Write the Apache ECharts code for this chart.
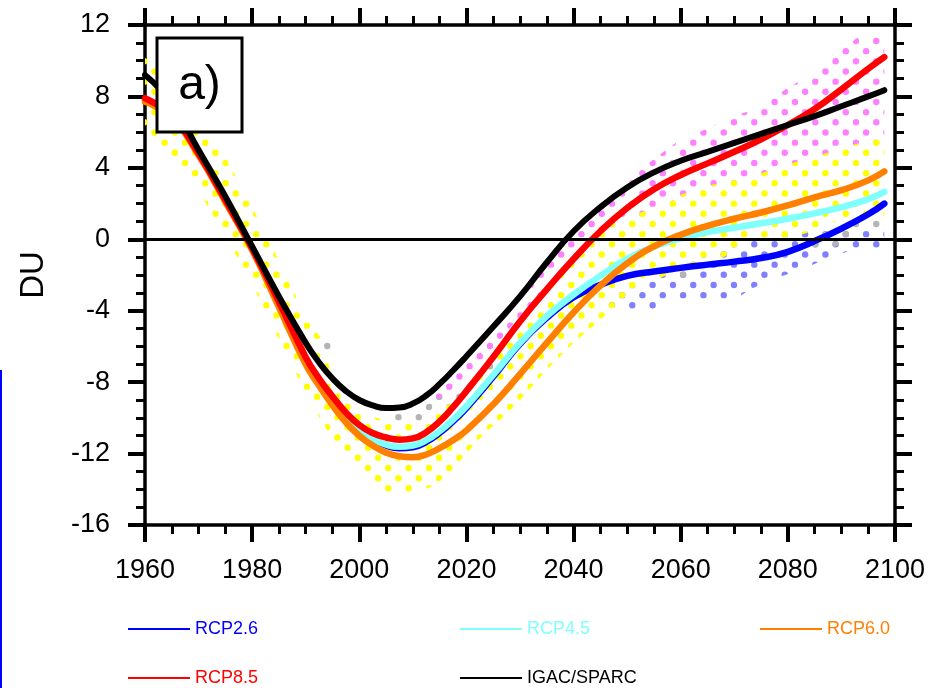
<!DOCTYPE html>
<html>
<head>
<meta charset="utf-8">
<script src="https://cdn.jsdelivr.net/npm/echarts@6/dist/echarts.min.js"></script>
<style>
  html, body { margin: 0; padding: 0; background: #fff; }
  #container { width: 935px; height: 688px; }
</style>
</head>
<body>
<div id="container"></div>
<script>
var years = [1960, 1965, 1970, 1975, 1980, 1985, 1990, 1992.5, 1995, 1997.5, 2000, 2002.5, 2005,
  2007.5, 2010, 2012.5, 2015, 2017.5, 2020, 2025, 2030, 2035, 2040, 2045, 2050, 2055, 2060, 2065,
  2070, 2075, 2080, 2085, 2090, 2095, 2098];

var rcp26 = [7.8, 6.9, 4.8, 2.2, -0.5, -3.6, -6.7, -7.9, -9.0, -9.95, -10.7, -11.2, -11.55,
  -11.7, -11.65, -11.35, -10.85, -10.2, -9.45, -7.7, -5.85, -4.4, -3.25, -2.55, -2.05, -1.8, -1.6, -1.42,
  -1.25, -1.05, -0.7, -0.1, 0.6, 1.4, 2.0];
var rcp45 = [7.8, 6.9, 4.8, 2.2, -0.5, -3.6, -6.7, -7.9, -9.0, -9.95, -10.7, -11.2, -11.5,
  -11.62, -11.55, -11.25, -10.75, -10.1, -9.35, -7.6, -5.8, -4.3, -3.1, -2.05, -1.1, -0.4, 0.05, 0.4,
  0.65, 0.9, 1.15, 1.45, 1.8, 2.25, 2.65];
var rcp60 = [7.7, 6.8, 4.7, 2.1, -0.6, -3.8, -7.0, -8.2, -9.3, -10.25, -11.0, -11.55, -11.95,
  -12.15, -12.2, -12.05, -11.7, -11.25, -10.7, -9.25, -7.55, -5.8, -4.1, -2.6, -1.35, -0.4, 0.25, 0.75,
  1.15, 1.5, 1.9, 2.35, 2.75, 3.3, 3.8];
var rcp85 = [7.9, 6.9, 4.8, 2.2, -0.5, -3.5, -6.6, -7.8, -8.8, -9.7, -10.4, -10.85, -11.1,
  -11.22, -11.15, -10.8, -10.2, -9.4, -8.5, -6.6, -4.6, -2.8, -1.1, 0.45, 1.75, 2.8, 3.6, 4.25,
  4.9, 5.6, 6.4, 7.3, 8.4, 9.55, 10.2];
var igacSparc = [9.2, 7.6, 5.0, 2.4, -0.4, -3.2, -5.8, -6.9, -7.8, -8.5, -9.0, -9.3, -9.45,
  -9.42, -9.2, -8.75, -8.1, -7.35, -6.55, -4.9, -3.2, -1.3, 0.45, 1.8, 2.9, 3.75, 4.4, 4.9,
  5.4, 5.9, 6.4, 6.9, 7.45, 8.0, 8.35];

// stippled ranges: lower / upper bounds
var yellowYears = [1960, 1965, 1970, 1975, 1980, 1985, 1990, 1993, 1995, 2000, 2005, 2010, 2014, 2017,
  2020, 2022, 2024, 2026, 2030, 2035, 2040, 2045, 2050, 2055, 2060, 2065, 2068, 2071, 2074, 2080, 2086, 2090, 2098];
var yellowLow = [5.8, 4.3, 2.7, 0.2, -2.5, -5.6, -8.6, -10.2, -11.2, -12.9, -14.2, -14.2, -13.8, -13.0,
  -12.0, -11.3, -10.7, -10.2, -9.0, -7.3, -5.8, -4.5, -3.1, -2.3, -1.7, -1.1, -1.0, -0.5, 0.0, 0.0, 0.6, 1.15, 1.15];
var yellowHigh = [10.3, 9.0, 7.2, 4.6, 1.8, -1.2, -4.4, -5.6, -7.8, -9.6, -10.2, -10.35, -9.8, -9.2,
  -8.6, -7.9, -7.3, -6.3, -4.7, -2.9, -1.1, 0.6, 1.2, 1.8, 2.5, 3.0, 3.2, 3.4, 3.6, 4.2, 4.7, 5.1, 5.8];

var pinkYears = [2013, 2015, 2020, 2025, 2030, 2035, 2040, 2045, 2050, 2055, 2060, 2065, 2070, 2075,
  2080, 2085, 2090, 2093, 2098];
var pinkLow = [-9.4, -9.3, -7.8, -6.1, -4.3, -2.6, -0.9, 0.5, 1.0, 1.6, 2.3, 2.8, 3.2, 3.6,
  4.1, 4.5, 5.0, 5.3, 5.7];
var pinkHigh = [-9.1, -8.4, -6.9, -5.2, -3.4, -1.5, 0.3, 1.9, 3.3, 4.5, 5.6, 6.2, 6.9, 7.4,
  8.5, 9.3, 10.6, 11.3, 11.3];

var blueYears = [2046, 2050, 2055, 2057, 2060, 2065, 2070, 2073, 2077, 2083, 2087, 2092, 2098];
var blueLow = [-3.7, -3.95, -3.95, -3.4, -3.4, -3.4, -3.4, -2.8, -2.25, -1.65, -1.1, -0.6, -0.6];
var blueHigh = [-3.2, -2.8, -2.1, -1.9, -1.5, -0.9, -0.3, 0.1, 0.1, 0.4, 0.7, 0.6, 0.6];

var grayYears1 = [1992.5, 1995.2];
var grayLow1 = [-6.2, -6.2];
var grayHigh1 = [-5.6, -5.6];
var grayYears2 = [2005.5, 2011.5, 2013, 2018, 2020, 2022, 2024.5, 2025.5];
var grayLow2 = [-10.3, -10.3, -9.7, -9.1, -8.5, -7.9, -7.3, -7.3];
var grayHigh2 = [-9.7, -9.7, -9.1, -8.5, -7.9, -7.3, -6.7, -6.7];
var grayYears3 = [2059.2, 2061.2];
var grayLow3 = [-2.3, -2.3];
var grayHigh3 = [-1.7, -1.7];
var grayYears4 = [2084, 2088, 2091.8, 2092.2, 2098];
var grayLow4 = [-0.55, -0.55, 0.05, 0.6, 0.6];
var grayHigh4 = [-0.05, 0.6, 0.6, 1.15, 1.15];

var fontFamily = '"Liberation Sans", Arial, Helvetica, sans-serif';

function pairs(xs, ys) {
  return xs.map(function (x, i) { return [x, ys[i]]; });
}

// dot lattice tile, anchored to the canvas origin so all colours share one grid
var patternCache = {};
function dots(color) {
  if (patternCache[color]) return patternCache[color];
  var T = 61, s = T / 6, ox = 1.94, oy = 0.3;
  var c = document.createElement('canvas');
  c.width = T; c.height = T;
  var ctx = c.getContext('2d');
  ctx.fillStyle = color;
  for (var i = -1; i <= 6; i++) {
    for (var j = -1; j <= 6; j++) {
      if (Math.abs(i + j) % 2 !== 0) continue;
      ctx.beginPath();
      ctx.arc(ox + i * s, oy + j * s, 3.2, 0, Math.PI * 2);
      ctx.fill();
    }
  }
  patternCache[color] = { image: c, repeat: 'repeat' };
  return patternCache[color];
}

function band(xs, low, high, color, extra) {
  var s = {
    type: 'custom',
    silent: true,
    z: 1,
    clip: true,
    data: [[xs[0], low[0]]],
    renderItem: function (params, api) {
      var pts = [];
      for (var i = 0; i < xs.length; i++) pts.push(api.coord([xs[i], high[i]]));
      for (var k = xs.length - 1; k >= 0; k--) pts.push(api.coord([xs[k], low[k]]));
      return {
        type: 'polygon',
        shape: { points: pts },
        style: { fill: dots(color), stroke: null }
      };
    }
  };
  if (extra) Object.assign(s, extra);
  return s;
}

function lineSeries(name, values, color, width) {
  return {
    name: name,
    type: 'line',
    z: 3,
    smooth: 0.5,
    showSymbol: false,
    symbol: 'none',
    color: color,
    lineStyle: { color: color, width: width, cap: 'round', join: 'round' },
    data: pairs(years, values)
  };
}

var axisCommonX = {
  type: 'value', min: 1960, max: 2100, interval: 20,
  axisLine: { onZero: false, lineStyle: { color: '#000', width: 3.5 } },
  axisTick: { inside: false, length: 17, lineStyle: { color: '#000', width: 4 } },
  minorTick: { show: true, splitNumber: 4, length: 9, lineStyle: { color: '#000', width: 3 } },
  splitLine: { show: false }
};
var axisCommonY = {
  type: 'value', min: -16, max: 12, interval: 4,
  axisLine: { onZero: false, lineStyle: { color: '#000', width: 3.5 } },
  axisTick: { inside: false, length: 17, lineStyle: { color: '#000', width: 4 } },
  minorTick: { show: true, splitNumber: 4, length: 9, lineStyle: { color: '#000', width: 3 } },
  splitLine: { show: false }
};

var dom = document.getElementById('container');
var myChart = echarts.init(dom, null, { renderer: 'canvas' });

var legendText = { fontSize: 18, fontFamily: fontFamily };
var legendBase = {
  orient: 'vertical', itemGap: 31, itemWidth: 62, itemHeight: 2, icon: 'rect',
  selectedMode: false, textStyle: legendText, padding: 0
};

var option = {
  animation: false,
  backgroundColor: '#fff',
  grid: { left: 145, right: 40, top: 25, bottom: 163 },
  xAxis: [
    Object.assign({}, axisCommonX, {
      position: 'bottom',
      axisLabel: { fontSize: 27, color: '#000', margin: 32, fontFamily: fontFamily,
        formatter: function (v) { return String(v); } }
    }),
    Object.assign({}, axisCommonX, { position: 'top', axisLabel: { show: false } })
  ],
  yAxis: [
    Object.assign({}, axisCommonY, {
      position: 'left',
      name: 'DU', nameLocation: 'middle', nameGap: 95,
      nameTextStyle: { fontSize: 33, color: '#000', fontFamily: fontFamily },
      axisLabel: { fontSize: 27, color: '#000', margin: 35, fontFamily: fontFamily }
    }),
    Object.assign({}, axisCommonY, { position: 'right', axisLabel: { show: false } })
  ],
  legend: [
    Object.assign({}, legendBase, { left: 128, top: 620,
      data: [{ name: 'RCP2.6', textStyle: { color: '#0000ff' } }, { name: 'RCP8.5', textStyle: { color: '#ff0000' } }] }),
    Object.assign({}, legendBase, { left: 460, top: 620,
      data: [{ name: 'RCP4.5', textStyle: { color: '#80ffff' } }, { name: 'IGAC/SPARC', textStyle: { color: '#000' } }] }),
    Object.assign({}, legendBase, { left: 760, top: 620,
      data: [{ name: 'RCP6.0', textStyle: { color: '#ff8000' } }] })
  ],
  series: [
    band(pinkYears, pinkLow, pinkHigh, '#ff80ff'),
    band(blueYears, blueLow, blueHigh, '#8080ff'),
    band(yellowYears, yellowLow, yellowHigh, '#ffff00'),
    band(grayYears1, grayLow1, grayHigh1, '#b4b4b4'),
    band(grayYears2, grayLow2, grayHigh2, '#b4b4b4'),
    band(grayYears3, grayLow3, grayHigh3, '#b4b4b4'),
    band(grayYears4, grayLow4, grayHigh4, '#b4b4b4', {
      markLine: {
        silent: true, symbol: ['none', 'none'], label: { show: false },
        lineStyle: { color: '#000', width: 3, type: 'solid' },
        data: [{ yAxis: 0 }]
      }
    }),
    lineSeries('RCP2.6', rcp26, '#0000ff', 6.5),
    lineSeries('RCP4.5', rcp45, '#80ffff', 6.5),
    lineSeries('RCP6.0', rcp60, '#ff8000', 6.5),
    lineSeries('RCP8.5', rcp85, '#ff0000', 6.5),
    lineSeries('IGAC/SPARC', igacSparc, '#000000', 6)
  ],
  graphic: [
    { type: 'rect', z: 100, shape: { x: 157, y: 38, width: 85, height: 94 },
      style: { fill: '#fff', stroke: '#000', lineWidth: 3 } },
    { type: 'text', z: 101, x: 199.5, y: 86,
      style: { text: 'a)', fontSize: 48, fontFamily: fontFamily, fill: '#000', align: 'center', verticalAlign: 'middle' } },
    { type: 'line', z: 100, shape: { x1: 1, y1: 370, x2: 1, y2: 688 },
      style: { stroke: '#0000ff', lineWidth: 2 } }
  ]
};

if (option && typeof option === 'object') {
  myChart.setOption(option);
}

window.addEventListener('resize', myChart.resize);
</script>
</body>
</html>
